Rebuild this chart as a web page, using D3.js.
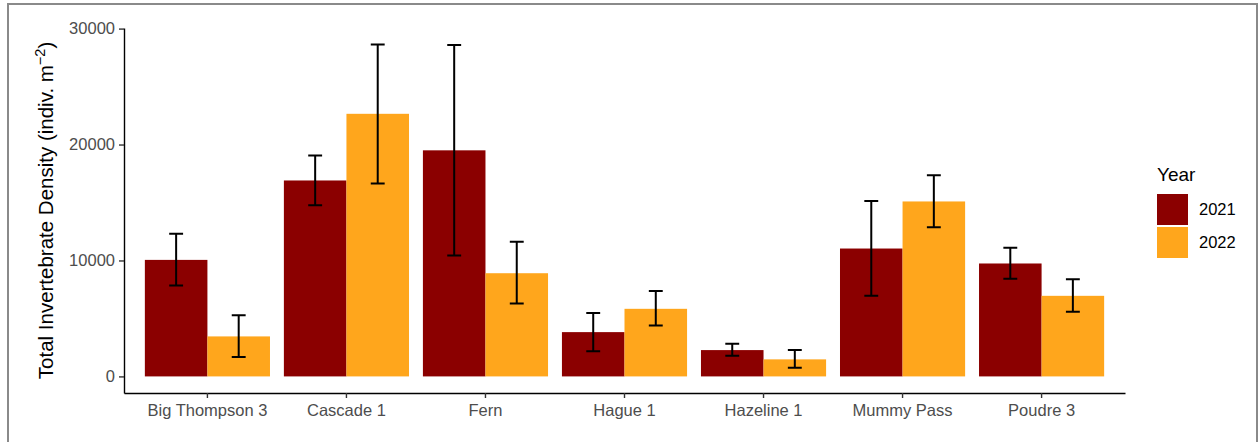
<!DOCTYPE html>
<html>
<head>
<meta charset="utf-8">
<script src="https://cdn.jsdelivr.net/npm/d3@7"></script>
<style>
  body { margin: 0; background: #fff; }
  svg text { font-family: "Liberation Sans", Arial, Helvetica, sans-serif; }
</style>
</head>
<body>
<script>
// data
var sites = ["Big Thompson 3", "Cascade 1", "Fern", "Hague 1", "Hazeline 1", "Mummy Pass", "Poudre 3"];
var years = ["2021", "2022"];
var mean2021 = [10050, 16900, 19500, 3820, 2270, 11030, 9740];
var mean2022 = [3450, 22650, 8900, 5830, 1470, 15090, 6950];
var lo2021 = [7850, 14770, 10430, 2160, 1780, 6950, 8420];
var hi2021 = [12300, 19050, 28590, 5460, 2820, 15140, 11090];
var lo2022 = [1670, 16640, 6290, 4400, 750, 12870, 5580];
var hi2022 = [5280, 28620, 11610, 7360, 2270, 17360, 8390];
var yTicks = [0, 10000, 20000, 30000];
var colors = ["#8B0000", "#FFA61C"];

var W = 1259, H = 442;
var margin = {top: 28, left: 124, right: 134, bottom: 49};

var rows = [];
sites.forEach(function(s, i) {
  rows.push({site: s, year: "2021", mean: mean2021[i], lo: lo2021[i], hi: hi2021[i]});
  rows.push({site: s, year: "2022", mean: mean2022[i], lo: lo2022[i], hi: hi2022[i]});
});

var svg = d3.select("body").append("svg").attr("width", W).attr("height", H);

// outer frame
svg.append("rect").attr("x", 8).attr("y", 4).attr("width", 1249).attr("height", 460)
  .attr("fill", "none").attr("stroke", "#8a8a8a").attr("stroke-width", 2);

var maxV = d3.max(rows, function(d) { return d.hi; });
var y = d3.scaleLinear()
  .domain([-0.05 * maxV, maxV * 1.05])
  .range([H - margin.bottom, margin.top]);

var x = d3.scaleBand().domain(sites)
  .range([margin.left, W - margin.right])
  .paddingInner(0).paddingOuter(0.1);

var bw = x.bandwidth();
var xs = d3.scaleBand().domain(years).range([0.05 * bw, 0.95 * bw]);
var col = d3.scaleOrdinal().domain(years).range(colors);

// bars
svg.append("g").selectAll("rect").data(rows).enter().append("rect")
  .attr("x", function(d) { return x(d.site) + xs(d.year); })
  .attr("y", function(d) { return y(d.mean); })
  .attr("width", xs.bandwidth())
  .attr("height", function(d) { return y(0) - y(d.mean); })
  .attr("fill", function(d) { return col(d.year); });

// error bars
var capW = 0.1 * bw;
var eb = svg.append("g").attr("stroke", "#000").attr("stroke-width", 2).attr("fill", "none");
rows.forEach(function(d) {
  var cx = x(d.site) + xs(d.year) + xs.bandwidth() / 2;
  eb.append("path")
    .attr("d", "M" + (cx - capW / 2) + "," + y(d.hi) + "H" + (cx + capW / 2) +
               "M" + cx + "," + y(d.hi) + "V" + y(d.lo) +
               "M" + (cx - capW / 2) + "," + y(d.lo) + "H" + (cx + capW / 2));
});

// axes
var yAxis = svg.append("g").attr("transform", "translate(" + margin.left + ",0)")
  .call(d3.axisLeft(y).tickValues(yTicks).tickFormat(d3.format("d"))
    .tickSize(5).tickPadding(4).tickSizeOuter(0));
var xAxis = svg.append("g").attr("transform", "translate(0," + (H - margin.bottom) + ")")
  .call(d3.axisBottom(x).tickSize(5).tickPadding(6).tickSizeOuter(0));

[yAxis, xAxis].forEach(function(a) {
  a.select(".domain").attr("stroke", "#000").attr("stroke-width", 1.4);
  a.selectAll(".tick line").attr("stroke", "#333").attr("stroke-width", 1.4);
  a.selectAll(".tick text").attr("fill", "#4D4D4D").style("font-size", "16.5px");
});

// y axis title
var yt = svg.append("text")
  .attr("transform", "translate(53," + ((margin.top + H - margin.bottom) / 2) + ") rotate(-90)")
  .attr("text-anchor", "middle")
  .attr("fill", "#000")
  .style("font-size", "20.5px");
yt.append("tspan").text("Total Invertebrate Density (indiv. m");
yt.append("tspan").text("\u22122").attr("dy", -8).style("font-size", "14.5px");
yt.append("tspan").text(")").attr("dy", 8);

// legend
var lg = svg.append("g").attr("transform", "translate(1157,0)");
lg.append("text").attr("x", 0).attr("y", 181).text("Year")
  .style("font-size", "19px").attr("fill", "#000");
years.forEach(function(yr, i) {
  lg.append("rect").attr("x", 0).attr("y", 194 + i * 33).attr("width", 31).attr("height", 31)
    .attr("fill", col(yr));
  lg.append("text").attr("x", 42).attr("y", 194 + i * 33 + 15.5).attr("dy", "0.35em")
    .text(yr).style("font-size", "16.5px").attr("fill", "#000");
});
</script>
</body>
</html>
